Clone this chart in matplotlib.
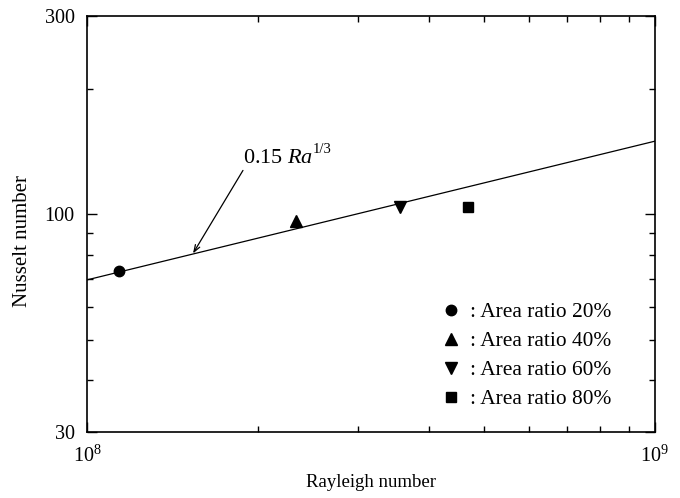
import numpy as np
import matplotlib
matplotlib.use("Agg")
import matplotlib.pyplot as plt
from matplotlib.ticker import LogLocator, NullFormatter, FixedLocator, FixedFormatter

plt.rcParams['font.family'] = ['Liberation Serif', 'DejaVu Serif']
plt.rcParams['mathtext.fontset'] = 'custom'
plt.rcParams['mathtext.rm'] = 'Liberation Serif'
plt.rcParams['mathtext.it'] = 'Liberation Serif:italic'

# measured points
ra_pts = [1.14e8, 2.33e8, 3.56e8, 4.69e8]
nu_pts = [73.3, 96.2, 104.0, 104.0]
markers = ['o', '^', 'v', 's']
msizes = [7.5, 8.5, 8.5, 6.5]
labels = [': Area ratio 20%', ': Area ratio 40%', ': Area ratio 60%', ': Area ratio 80%']

# correlation line
ra_line = np.array([1e8, 1e9])
nu_line = 0.15 * ra_line ** (1 / 3)

fig = plt.figure(figsize=(6.8, 4.98), dpi=100)
ax = fig.add_axes([0.128, 0.1325, 0.835, 0.8355])

ax.plot(ra_line, nu_line, color='black', lw=0.9)
for x, y, m, s, lab in zip(ra_pts, nu_pts, markers, msizes, labels):
    ax.plot(x, y, marker=m, color='black', ls='none', ms=s, label=lab)

ax.set_xscale('log')
ax.set_yscale('log')
ax.set_xlim(1e8, 1e9)
ax.set_ylim(30, 300)

ax.yaxis.set_major_locator(FixedLocator([30, 100, 300]))
ax.yaxis.set_major_formatter(FixedFormatter(['30', '100', '300']))
ax.yaxis.set_minor_locator(FixedLocator([40, 50, 60, 70, 80, 90, 200]))
ax.yaxis.set_minor_formatter(NullFormatter())
ax.xaxis.set_minor_locator(LogLocator(base=10, subs=np.arange(2, 10)))
ax.xaxis.set_minor_formatter(NullFormatter())
ax.set_xticks([1e8, 1e9])
ax.set_xticklabels([r'$\mathregular{10^8}$', r'$\mathregular{10^9}$'])

ax.tick_params(which='both', direction='in', top=True, right=True, labelsize=14.5, width=1)
ax.tick_params(which='major', length=7)
ax.tick_params(axis='y', which='major', pad=9)
ax.tick_params(axis='x', which='major', pad=10)
ax.tick_params(which='minor', length=4)
for s in ax.spines.values():
    s.set_linewidth(1.2)

ax.set_xlabel('Rayleigh number', fontsize=13.5, labelpad=5)
ax.set_ylabel('Nusselt number', fontsize=15)
ax.yaxis.set_label_coords(-0.097, 0.459)

# annotation
txt = ax.text(1.882e8, 132.6, r'$\mathregular{0.15\ }Ra$', fontsize=16, ha='left', va='baseline')
ax.annotate('1/3', xy=(1.0, 0.65), xycoords=txt, fontsize=10.5, ha='left', va='bottom')
ax.annotate('', xy=(1.537e8, 80.6), xytext=(1.882e8, 127.6),
            arrowprops=dict(arrowstyle='->,head_length=0.5,head_width=0.18', color='black',
                            lw=0.9, shrinkA=0, shrinkB=0))

ax.legend(loc='lower right', frameon=False, fontsize=15.4, handletextpad=0.3,
          labelspacing=0.42, borderaxespad=0, borderpad=0, handlelength=1.2,
          bbox_to_anchor=(0.924, 0.055))

fig.savefig('out.png', dpi=100)
